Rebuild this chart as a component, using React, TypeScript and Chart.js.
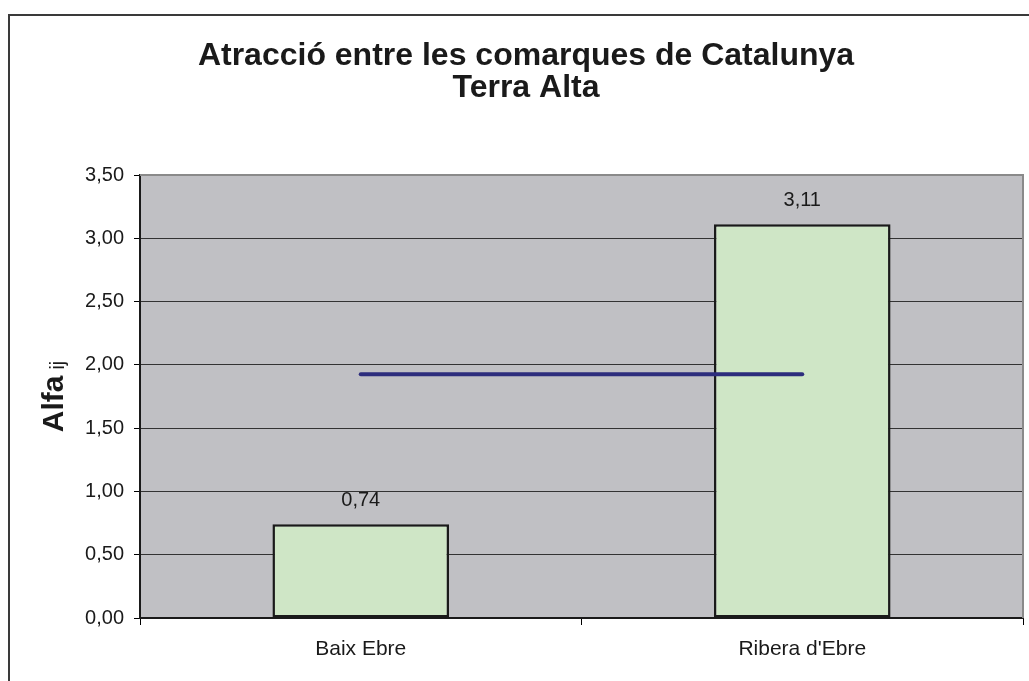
import React, { useEffect, useRef } from "react";
import { Chart, registerables } from "chart.js";

Chart.register(...registerables);

const categories = ["Baix Ebre", "Ribera d'Ebre"];
const alfaValues = [0.74, 3.11];
const meanValues = [1.925, 1.925];
const titleLines = ["Atracció entre les comarques de Catalunya", "Terra Alta"];
const yTitleMain = "Alfa";
const yTitleSub = "ij";
const yMin = 0;
const yMax = 3.5;
const yStep = 0.5;

const FONT = "'Liberation Sans', Arial, Helvetica, sans-serif";
const fmt = (v: number) => v.toFixed(2).replace(".", ",");

const decorPlugin = {
  id: "decor",
  beforeDraw(chart: any) {
    const { ctx, chartArea, width, height } = chart;
    ctx.save();
    ctx.fillStyle = "#ffffff";
    ctx.fillRect(0, 0, width, height);
    ctx.strokeStyle = "#3a3a3a";
    ctx.lineWidth = 2;
    ctx.strokeRect(9, 15, 1200, 900);
    ctx.fillStyle = "#c0c0c4";
    ctx.fillRect(chartArea.left, chartArea.top, chartArea.right - chartArea.left, chartArea.bottom - chartArea.top);
    ctx.restore();
  },
  afterDraw(chart: any) {
    const { ctx, chartArea } = chart;
    ctx.save();
    ctx.strokeStyle = "#8a8a8a";
    ctx.lineWidth = 2;
    ctx.beginPath();
    ctx.moveTo(chartArea.left, chartArea.top);
    ctx.lineTo(chartArea.right, chartArea.top);
    ctx.lineTo(chartArea.right, chartArea.bottom);
    ctx.stroke();

    const meta = chart.getDatasetMeta(0);
    ctx.fillStyle = "#1a1a1a";
    ctx.font = `20px ${FONT}`;
    ctx.textAlign = "center";
    ctx.textBaseline = "middle";
    meta.data.forEach((el: any, i: number) => {
      ctx.fillText(fmt(alfaValues[i]), el.x, el.y - 24);
    });

    ctx.fillStyle = "#1a1a1a";
    ctx.font = `bold 32px ${FONT}`;
    ctx.textBaseline = "alphabetic";
    ctx.textAlign = "center";
    ctx.fillText(titleLines[0], 526, 65);
    ctx.fillText(titleLines[1], 526, 97);

    const cy = (chartArea.top + chartArea.bottom) / 2;
    ctx.translate(63, cy);
    ctx.rotate(-Math.PI / 2);
    ctx.textAlign = "left";
    ctx.font = `bold 30px ${FONT}`;
    const wMain = ctx.measureText(yTitleMain).width;
    ctx.font = `20px ${FONT}`;
    const wSub = ctx.measureText(yTitleSub).width;
    const gap = 6;
    const total = wMain + gap + wSub;
    const start = -total / 2;
    ctx.font = `bold 30px ${FONT}`;
    ctx.fillText(yTitleMain, start, 0);
    ctx.font = `20px ${FONT}`;
    ctx.fillText(yTitleSub, start + wMain + gap, 1);
    ctx.restore();
  },
};

export default function App() {
  const ref = useRef<HTMLCanvasElement | null>(null);
  useEffect(() => {
    if (!ref.current) return;
    const chart = new Chart(ref.current, {
      type: "bar",
      data: {
        labels: categories,
        datasets: [
          {
            type: "bar",
            data: alfaValues,
            backgroundColor: "#cfe6c6",
            borderColor: "#1a1a1a",
            borderWidth: 2.5,
            borderSkipped: false,
            barPercentage: 0.4,
            categoryPercentage: 1,
            order: 1,
          } as any,
          {
            type: "line",
            data: meanValues,
            borderColor: "#2d2d7d",
            borderWidth: 4,
            borderCapStyle: "round",
            pointRadius: 0,
            fill: false,
            order: 0,
          } as any,
        ],
      },
      options: {
        responsive: false,
        animation: false,
        layout: { padding: { top: 175, left: 0, right: 6, bottom: 0 } },
        plugins: {
          legend: { display: false },
          tooltip: { enabled: false },
          title: { display: false },
        },
        scales: {
          x: {
            offset: true,
            afterFit: (s: any) => {
              s.height = 63;
            },
            grid: {
              offset: true,
              drawOnChartArea: false,
              tickLength: 7,
              color: "#000000",
              tickColor: "#000000",
            },
            border: { display: true, color: "#1a1a1a", width: 2 },
            ticks: {
              color: "#1a1a1a",
              font: { family: FONT, size: 21 },
              padding: 12,
            },
          },
          y: {
            min: yMin,
            max: yMax,
            afterFit: (s: any) => {
              s.width = 140;
            },
            grid: {
              color: "#333333",
              lineWidth: 1,
              tickLength: 6,
              tickColor: "#000000",
            },
            border: { display: true, color: "#1a1a1a", width: 2 },
            ticks: {
              stepSize: yStep,
              color: "#1a1a1a",
              font: { family: FONT, size: 20 },
              padding: 10,
              callback: (v: any) => fmt(Number(v)),
            },
          },
        },
      },
      plugins: [decorPlugin],
    } as any);
    return () => chart.destroy();
  }, []);
  return (
    <div style={{ position: "absolute", left: 0, top: 0, width: 1029, height: 681 }}>
      <canvas ref={ref} width={1029} height={681} />
    </div>
  );
}
